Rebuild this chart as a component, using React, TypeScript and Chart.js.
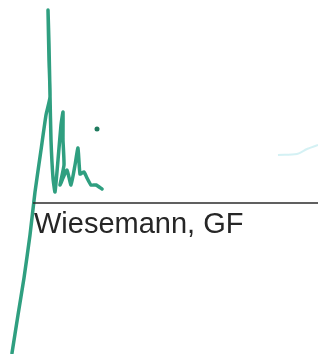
import React, { useEffect, useRef } from "react";
import { Chart, registerables } from "chart.js";

Chart.register(...registerables);

// Signature stroke (pixel-space units of the 318x354 sheet)
const strokeX = [12, 18, 24, 30, 35, 41, 46, 50, 49, 48, 49, 50, 51, 53, 55, 58, 61, 63, 63, 64, 60, 63, 67, 71, 75, 78, 80, 84, 87, 91, 96, 102];
const strokeY = [353, 315, 278, 235, 192, 150, 115, 97, 60, 10, 45, 95, 140, 178, 192, 160, 125, 112, 140, 165, 185, 178, 170, 185, 165, 148, 174, 172, 178, 185, 185, 189];
const dotX = [97];
const dotY = [129];
const faintX = [278, 297, 307, 318];
const faintY = [155, 154, 149, 145];
const ruleX = [33, 318];
const ruleY = [203, 203];
const nameLabel = "Wiesemann, GF";

const toPts = (xs: number[], ys: number[]) => xs.map((x, i) => ({ x, y: ys[i] }));

export default function App() {
  const ref = useRef<HTMLCanvasElement | null>(null);
  useEffect(() => {
    const ctx = ref.current!.getContext("2d")!;
    const labelPlugin = {
      id: "nameLabel",
      afterDatasetsDraw(chart: any) {
        const { ctx, scales } = chart;
        ctx.save();
        ctx.fillStyle = "#262626";
        ctx.font = "29px 'Liberation Sans', Arial, sans-serif";
        ctx.textBaseline = "alphabetic";
        ctx.fillText(nameLabel, scales.x.getPixelForValue(34), scales.y.getPixelForValue(233));
        ctx.restore();
      },
    };
    const chart = new Chart(ctx, {
      type: "scatter",
      data: {
        datasets: [
          {
            data: toPts(ruleX, ruleY),
            showLine: true,
            borderColor: "#2b2b2b",
            borderWidth: 1.5,
            pointRadius: 0,
          },
          {
            data: toPts(faintX, faintY),
            showLine: true,
            borderColor: "rgba(160,225,230,0.45)",
            borderWidth: 2,
            pointRadius: 0,
            tension: 0.3,
          },
          {
            data: toPts(strokeX, strokeY),
            showLine: true,
            borderColor: "#2f9f80",
            borderWidth: 3.5,
            pointRadius: 0,
            tension: 0.15,
            borderCapStyle: "round",
            borderJoinStyle: "round",
          } as any,
          {
            data: toPts(dotX, dotY),
            pointRadius: 2.5,
            pointBackgroundColor: "#1f7a5e",
            pointBorderWidth: 0,
          },
        ],
      },
      options: {
        animation: false,
        responsive: false,
        events: [],
        layout: { padding: 0, autoPadding: false },
        plugins: { legend: { display: false }, tooltip: { enabled: false }, title: { display: false } },
        scales: {
          x: { type: "linear", min: 0, max: 318, display: false },
          y: { type: "linear", min: 0, max: 354, reverse: true, display: false },
        },
      },
      plugins: [labelPlugin],
    });
    return () => chart.destroy();
  }, []);
  return (
    <div style={{ position: "fixed", left: 0, top: 0, width: 318, height: 354, background: "#fff" }}>
      <canvas ref={ref} width={318} height={354} style={{ display: "block" }} />
    </div>
  );
}
